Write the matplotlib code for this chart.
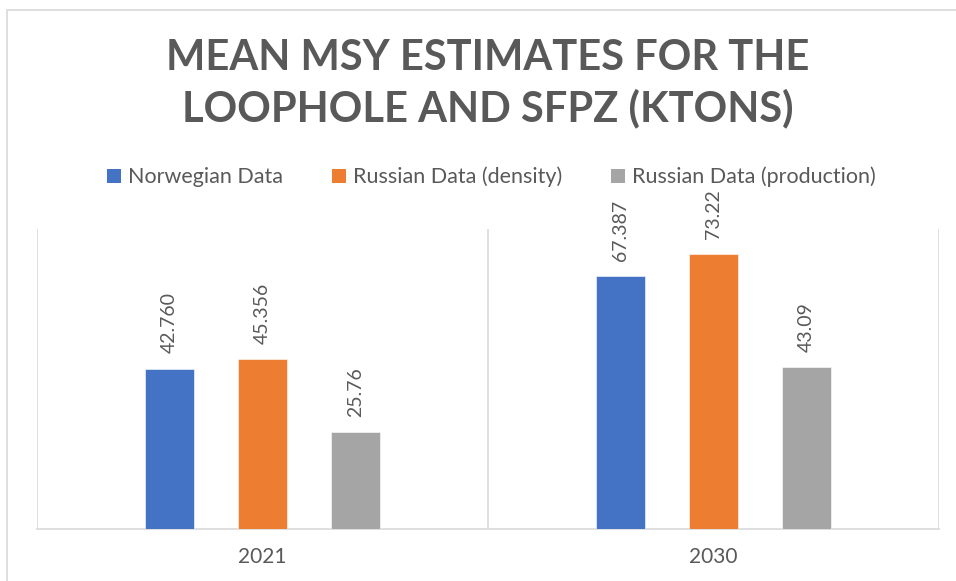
import numpy as np
import matplotlib
matplotlib.use("Agg")
import matplotlib.pyplot as plt
from matplotlib.patches import Rectangle, Patch

# data
years = ["2021", "2030"]
series = ["Norwegian Data", "Russian Data (density)", "Russian Data (production)"]
norwegian = [42.760, 67.387]
russian_density = [45.356, 73.22]
russian_production = [25.76, 43.09]
value_labels = [["42.760", "67.387"], ["45.356", "73.22"], ["25.76", "43.09"]]

colors = ["#4472C4", "#ED7D31", "#A5A5A5"]
txt = "#595959"
grid = "#D9D9D9"

plt.rcParams['font.family'] = ['Lato', 'DejaVu Sans']

fig = plt.figure(figsize=(9.56, 5.81), dpi=100)
# outer chart border (only top/left visible in the crop)
fig.patches.append(Rectangle((7/956, -0.1), 1.2, 1 - 10/581 + 0.1, transform=fig.transFigure,
                             fill=False, edgecolor=grid, linewidth=1.2))

ax = fig.add_axes([37/956, 1 - 529/581, (939 - 37)/956, (529 - 229)/581])

x = np.arange(len(years))
w = 0.1086
step = 0.206
vals = [norwegian, russian_density, russian_production]
for i, v in enumerate(vals):
    pos = x + (i - 1) * step
    bars = ax.bar(pos, v, width=w, color=colors[i], edgecolor="white", linewidth=0.4, zorder=3)
    for b, lab in zip(bars, value_labels[i]):
        ax.annotate(lab, (b.get_x() + b.get_width() / 2, b.get_height()),
                    xytext=(0, 11), textcoords="offset points", rotation=90,
                    ha="center", va="bottom", color=txt, fontsize=14)

ax.set_xlim(-0.5, 1.5)
ax.set_ylim(0, 80)
ax.set_yticks([])
ax.set_xticks(x)
ax.set_xticklabels(years, fontsize=15, color=txt)
ax.tick_params(axis="x", length=0, pad=13)
for s in ["top", "right", "left"]:
    ax.spines[s].set_visible(False)
ax.spines["bottom"].set_color(grid)
ax.spines["bottom"].set_linewidth(1.2)
for xv in [-0.5, 0.5, 1.5]:
    ax.axvline(xv, color=grid, linewidth=1.2, zorder=1)

fig.text(0.51, 1 - 58/581, "MEAN MSY ESTIMATES FOR THE", ha="center", va="center",
         fontsize=30, fontweight="bold", color=txt)
fig.text(0.51, 1 - 108/581, "LOOPHOLE AND SFPZ (KTONS)", ha="center", va="center",
         fontsize=30, fontweight="bold", color=txt)

handles = [Patch(facecolor=c, edgecolor="none") for c in colors]
fig.legend(handles, series, loc="center", bbox_to_anchor=(0.514, 1 - 177/581), ncol=3,
           frameon=False, fontsize=15.5, labelcolor=txt, handlelength=0.65, handleheight=0.65,
           handletextpad=0.3, columnspacing=2.3)

fig.savefig("out.png", dpi=100)
